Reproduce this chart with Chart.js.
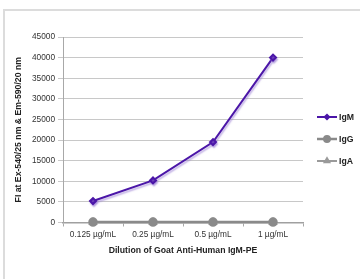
<!DOCTYPE html>
<html>
<head>
<meta charset="utf-8">
<script src="https://cdn.jsdelivr.net/npm/chart.js@4/dist/chart.umd.min.js"></script>
<style>
  html, body { margin: 0; padding: 0; background: #fff; }
  #wrap { position: relative; width: 360px; height: 279px; overflow: hidden; }
  #frame { position: absolute; left: 3px; top: 9px; right: -4px; bottom: -4px;
           border-left: 2px solid #dcdcdc; border-top: 2px solid #dcdcdc; }
  #c { position: absolute; left: 0; top: 0; }
</style>
</head>
<body>
<div id="wrap">
  <div id="frame"></div>
  <canvas id="c" width="360" height="279"></canvas>
</div>
<script>
const categories = ['0.125 µg/mL', '0.25 µg/mL', '0.5 µg/mL', '1 µg/mL'];
const igm = [5200, 10200, 19500, 40000];
const igg = [100, 100, 100, 100];
const iga = [80, 80, 80, 80];
const yTicks = [0, 5000, 10000, 15000, 20000, 25000, 30000, 35000, 40000, 45000];

const FONT = '"Liberation Sans", Arial, sans-serif';

// soft purple shadow under the IgM line
const shadowPlugin = {
    id: 'shadow',
    beforeDatasetDraw(chart, args) {
        if (args.index !== 0) return;
        const ctx = chart.ctx;
        ctx.save();
        ctx.shadowColor = 'rgba(150,120,210,0.55)';
        ctx.shadowOffsetX = 1;
        ctx.shadowOffsetY = 2;
        ctx.shadowBlur = 1.5;
    },
    afterDatasetDraw(chart, args) {
        if (args.index !== 0) return;
        chart.ctx.restore();
    }
};

// legend drawn on the right, line + marker + label
const sideLegend = {
    id: 'sideLegend',
    afterDraw(chart) {
        const ctx = chart.ctx;
        chart.data.datasets.forEach(function (ds, i) {
            const y = 117 + i * 22;
            ctx.save();
            ctx.strokeStyle = ds.borderColor;
            ctx.lineWidth = ds.borderWidth;
            ctx.beginPath();
            ctx.moveTo(317, y);
            ctx.lineTo(337, y);
            ctx.stroke();
            ctx.fillStyle = ds.pointBackgroundColor;
            ctx.strokeStyle = ds.pointBorderColor;
            Chart.helpers.drawPoint(ctx, {
                pointStyle: ds.pointStyle,
                radius: ds.pointRadius - 0.8,
                borderWidth: 1,
                rotation: 0
            }, 327, y);
            ctx.fillStyle = '#222';
            ctx.font = 'bold 8.7px ' + FONT;
            ctx.textAlign = 'left';
            ctx.textBaseline = 'middle';
            ctx.fillText(ds.label, 339, y + 0.5);
            ctx.restore();
        });
    }
};

new Chart(document.getElementById('c'), {
    type: 'line',
    data: {
        labels: categories,
        datasets: [{
            label: 'IgM',
            data: igm,
            borderColor: '#4b16a8',
            backgroundColor: '#4b16a8',
            pointBackgroundColor: '#4b16a8',
            pointBorderColor: '#4b16a8',
            pointStyle: 'rectRot',
            pointRadius: 3,
            borderWidth: 2,
            tension: 0,
            clip: false
        }, {
            label: 'IgG',
            data: igg,
            borderColor: '#8a8a8a',
            backgroundColor: '#8a8a8a',
            pointBackgroundColor: '#8a8a8a',
            pointBorderColor: '#8a8a8a',
            pointStyle: 'circle',
            pointRadius: 3.5,
            borderWidth: 2.5,
            tension: 0,
            clip: false
        }, {
            label: 'IgA',
            data: iga,
            borderColor: '#9a9a9a',
            backgroundColor: '#9a9a9a',
            pointBackgroundColor: '#9a9a9a',
            pointBorderColor: '#9a9a9a',
            pointStyle: 'triangle',
            pointRadius: 3.5,
            borderWidth: 2,
            tension: 0,
            clip: false
        }]
    },
    options: {
        responsive: false,
        animation: false,
        layout: { padding: { top: 37, right: 57, left: 13, bottom: 23 } },
        plugins: {
            legend: { display: false },
            tooltip: { enabled: false }
        },
        scales: {
            x: {
                offset: true,
                grid: { drawOnChartArea: false, offset: true, tickLength: 4, color: '#a8a8a8', lineWidth: 1 },
                border: { color: '#a0a0a0', width: 1.5 },
                ticks: { color: '#333', font: { family: FONT, size: 8.3 }, padding: 3, maxRotation: 0 },
                title: {
                    display: true,
                    text: 'Dilution of Goat Anti-Human IgM-PE',
                    color: '#222',
                    font: { family: FONT, size: 8.7, weight: 'bold' },
                    padding: { top: 0, bottom: 0 }
                },
                afterFit(scale) { scale.height = 33.5; }
            },
            y: {
                min: 0,
                max: 45000,
                afterBuildTicks(scale) { scale.ticks = yTicks.map(v => ({ value: v })); },
                grid: { color: '#c8c8c8', lineWidth: 1, tickLength: 5 },
                border: { color: '#a8a8a8', width: 1 },
                ticks: {
                    color: '#333',
                    font: { family: FONT, size: 8.3 },
                    padding: 3,
                    callback: v => String(v)
                },
                title: {
                    display: true,
                    text: 'FI at Ex-540/25 nm & Em-590/20 nm',
                    color: '#222',
                    font: { family: FONT, size: 8.7, weight: 'bold' },
                    padding: { top: 0, bottom: 0 }
                },
                afterFit(scale) { scale.width = 50; }
            }
        }
    },
    plugins: [shadowPlugin, sideLegend]
});
</script>
</body>
</html>
